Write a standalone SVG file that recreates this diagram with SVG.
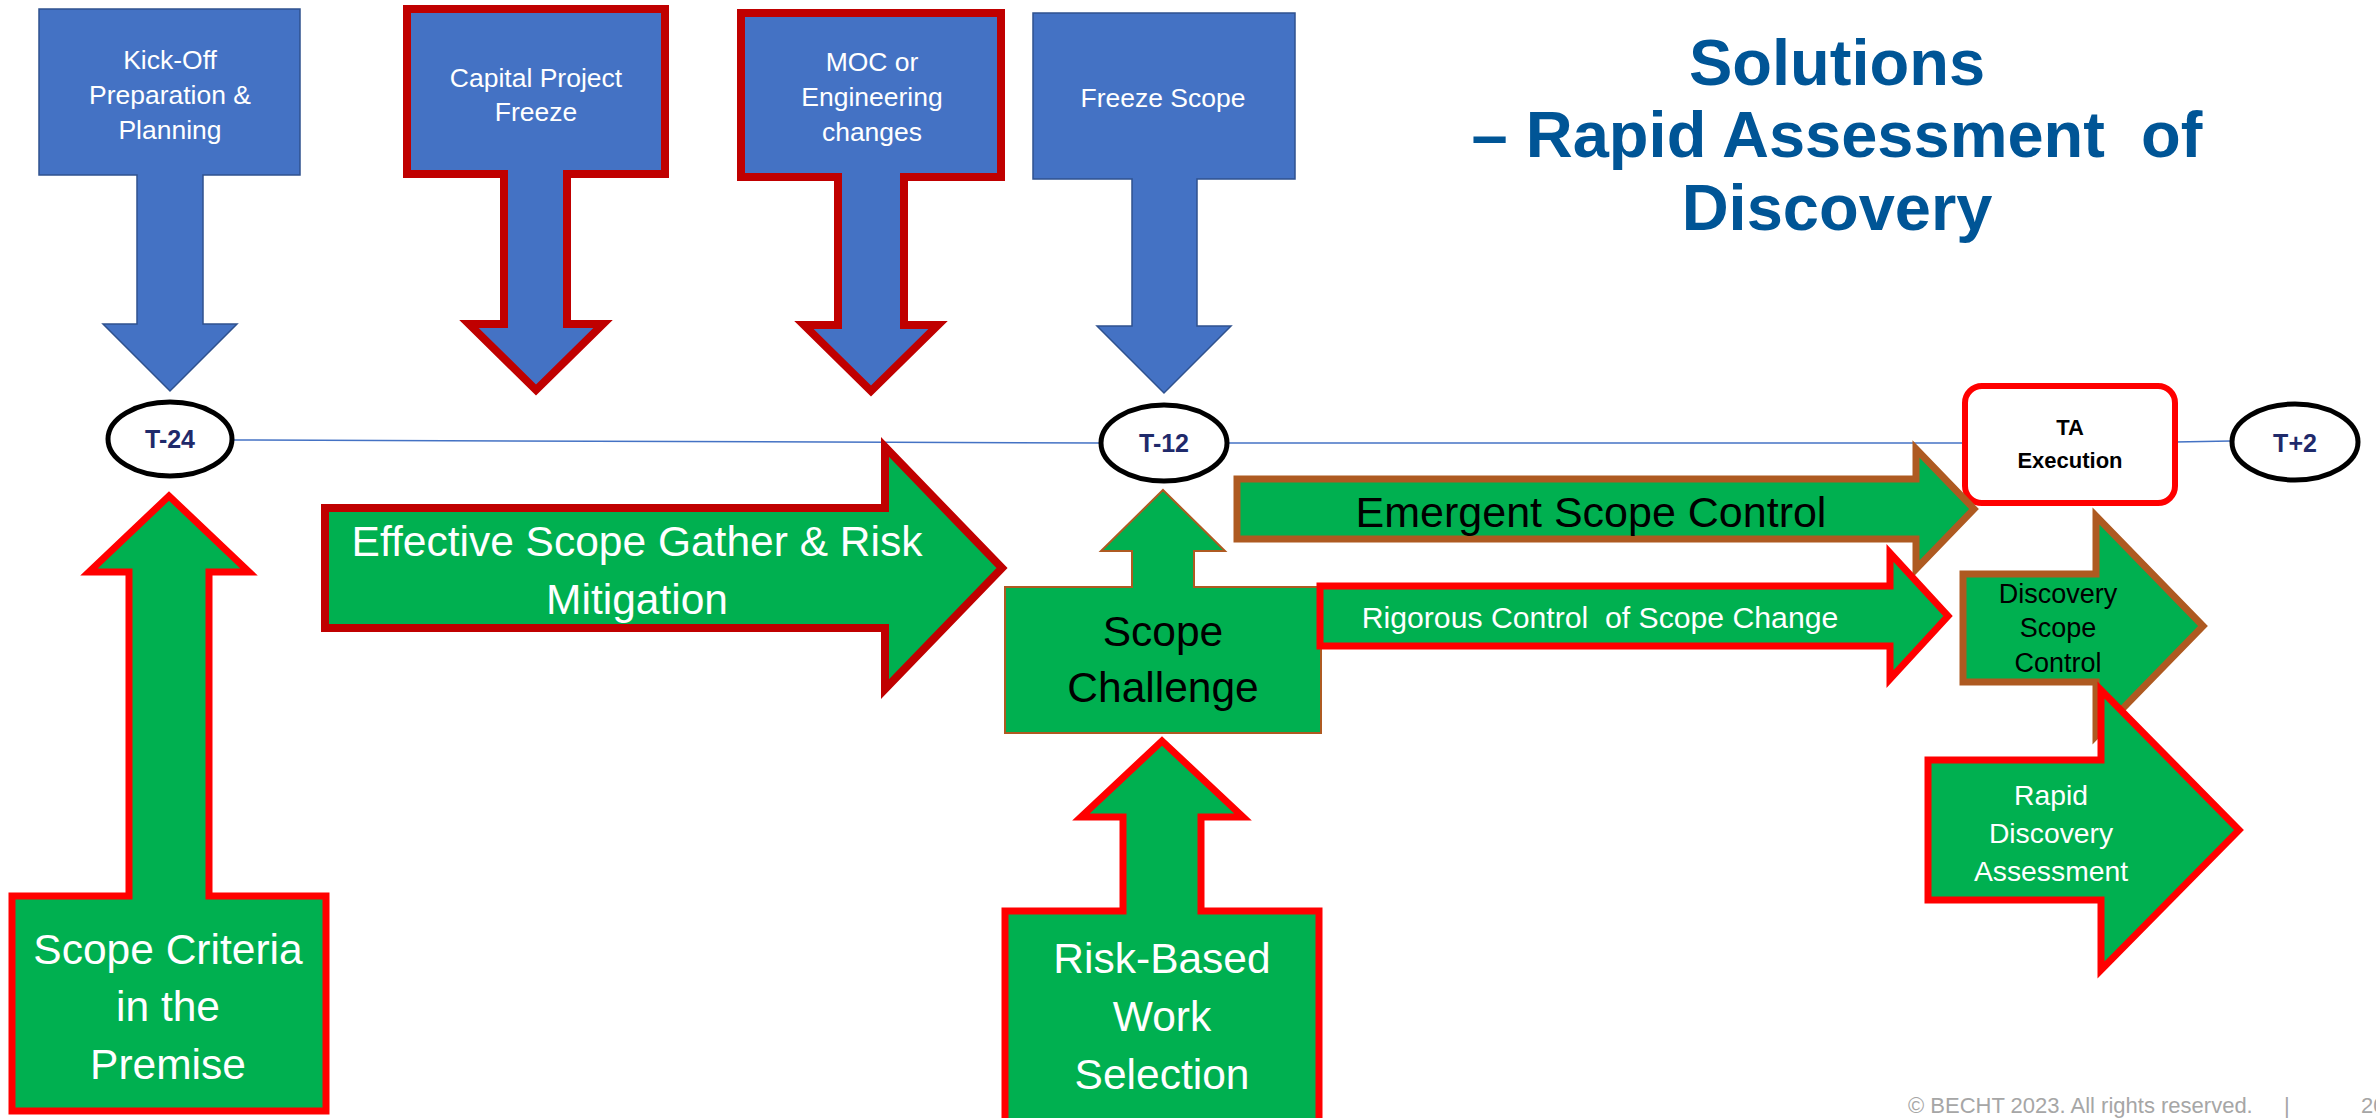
<svg xmlns="http://www.w3.org/2000/svg" width="2376" height="1118" viewBox="0 0 2376 1118">
<style>
.blue{fill:#4472C4;stroke:#2F528F;stroke-width:1.5}
.blueR{fill:#4472C4;stroke:#C00000;stroke-width:8}
.grR{fill:#00B050;stroke:#FF0000;stroke-width:7}
.grDR{fill:#00B050;stroke:#C00000;stroke-width:8}
.grB{fill:#00B050;stroke:#AE5A21;stroke-width:7}
.grBt{fill:#00B050;stroke:#AE5A21;stroke-width:2}
.ell{fill:#FFFFFF;stroke:#000000;stroke-width:5}
text{font-family:"Liberation Sans",Arial,sans-serif;text-anchor:middle}
.w26{fill:#FFFFFF;font-size:26.5px}
.w42{fill:#FFFFFF;font-size:42.5px}
.k42{fill:#000000;font-size:42.5px}
.tl{fill:#1F2A6B;font-size:25px;font-weight:bold}
.title{fill:#005596;font-size:65px;font-weight:bold}
</style>
<g id="connectors">
<line x1="233" y1="440" x2="1100" y2="443" stroke="#4472C4" stroke-width="1.5"/>
<line x1="1228" y1="443" x2="1965" y2="443" stroke="#4472C4" stroke-width="1.5"/>
<line x1="2175" y1="442" x2="2231" y2="441" stroke="#4472C4" stroke-width="1.5"/>
</g>
<g id="kickoff">
<path class="blue" d="M39,9 H300 V175 H203 V324 H237 L170,391 L103,324 H137 V175 H39 Z"/>
<text class="w26" x="170" y="69">Kick-Off</text>
<text class="w26" x="170" y="104">Preparation &amp;</text>
<text class="w26" x="170" y="139">Planning</text>
</g>
<g id="capital">
<path class="blueR" d="M407,9 H665 V174 H567 V324 H603 L536,390 L469,324 H504 V174 H407 Z"/>
<text class="w26" x="536" y="87">Capital Project</text>
<text class="w26" x="536" y="121">Freeze</text>
</g>
<g id="moc">
<path class="blueR" d="M741,13 H1001 V177 H904 V325 H938 L871,391 L804,325 H838 V177 H741 Z"/>
<text class="w26" x="872" y="71">MOC or</text>
<text class="w26" x="872" y="106">Engineering</text>
<text class="w26" x="872" y="141">changes</text>
</g>
<g id="freeze">
<path class="blue" d="M1033,13 H1295 V179 H1197 V326 H1231 L1164,393 L1097,326 H1132 V179 H1033 Z"/>
<text class="w26" x="1163" y="107">Freeze Scope</text>
</g>
<g id="title">
<text class="title" x="1837" y="85">Solutions</text>
<text class="title" x="1837" y="157" xml:space="preserve">– Rapid Assessment  of</text>
<text class="title" x="1837" y="230">Discovery</text>
</g>
<g id="t24">
<ellipse class="ell" cx="170" cy="439" rx="62" ry="37"/>
<text class="tl" x="170" y="448">T-24</text>
</g>
<g id="t12">
<ellipse class="ell" cx="1164" cy="443" rx="63" ry="38"/>
<text class="tl" x="1164" y="452">T-12</text>
</g>
<g id="t2">
<ellipse class="ell" cx="2295" cy="442" rx="63" ry="38"/>
<text class="tl" x="2295" y="452">T+2</text>
</g>
<g id="ta">
<rect x="1965" y="386" width="210" height="117" rx="17" fill="#FFFFFF" stroke="#FF0000" stroke-width="6"/>
<text x="2070" y="435" style="font-size:22px;font-weight:bold;fill:#000">TA</text>
<text x="2070" y="468" style="font-size:22px;font-weight:bold;fill:#000">Execution</text>
</g>
<g id="criteria">
<path class="grR" d="M169,496 L249,572 H209 V896 H326 V1111 H12 V896 H129 V572 H89 Z"/>
<text class="w42" x="168" y="964">Scope Criteria</text>
<text class="w42" x="168" y="1021">in the</text>
<text class="w42" x="168" y="1079">Premise</text>
</g>
<g id="effective">
<path class="grDR" d="M325,508 H885 V447 L1002,568 L885,689 V628 H325 Z"/>
<text class="w42" x="637" y="556">Effective Scope Gather &amp; Risk</text>
<text class="w42" x="637" y="614">Mitigation</text>
</g>
<g id="challenge">
<path class="grBt" d="M1163,490 L1225,551 H1194 V587 H1321 V733 H1005 V587 H1132 V551 H1101 Z"/>
<text class="k42" x="1163" y="646">Scope</text>
<text class="k42" x="1163" y="702">Challenge</text>
</g>
<g id="riskbased">
<path class="grR" d="M1162,741 L1243,817 H1201 V911 H1319 V1130 H1005 V911 H1123 V817 H1081 Z"/>
<text class="w42" x="1162" y="973">Risk-Based</text>
<text class="w42" x="1162" y="1031">Work</text>
<text class="w42" x="1162" y="1089">Selection</text>
</g>
<g id="emergent">
<path class="grB" d="M1237,479 H1916 V449 L1974,509 L1916,569 V539 H1237 Z"/>
<text x="1591" y="527" style="font-size:43px;fill:#000">Emergent Scope Control</text>
</g>
<g id="rigorous">
<path class="grR" d="M1320,586 H1890 V553 L1948,616 L1890,679 V646 H1320 Z"/>
<text x="1600" y="628" xml:space="preserve" style="font-size:30.2px;fill:#FFF">Rigorous Control  of Scope Change</text>
</g>
<g id="discovery">
<path class="grB" d="M1963,574 H2096 V516 L2203,626 L2096,736 V682 H1963 Z"/>
<text x="2058" y="603" style="font-size:27px;fill:#000">Discovery</text>
<text x="2058" y="637" style="font-size:27px;fill:#000">Scope</text>
<text x="2058" y="672" style="font-size:27px;fill:#000">Control</text>
</g>
<g id="rapid">
<path class="grR" d="M1928,760 H2101 V690 L2239,830 L2101,970 V900 H1928 Z"/>
<text x="2051" y="805" style="font-size:28.3px;fill:#FFF">Rapid</text>
<text x="2051" y="843" style="font-size:28.3px;fill:#FFF">Discovery</text>
<text x="2051" y="881" style="font-size:28.3px;fill:#FFF">Assessment</text>
</g>
<g id="footer">
<text x="1908" y="1113" style="font-size:22px;fill:#A6A6A6;text-anchor:start">© BECHT 2023. All rights reserved.</text>
<text x="2284" y="1113" style="font-size:22px;fill:#A6A6A6;text-anchor:start">|</text>
<text x="2361" y="1113" style="font-size:22px;fill:#A6A6A6;text-anchor:start">20</text>
</g>
</svg>
